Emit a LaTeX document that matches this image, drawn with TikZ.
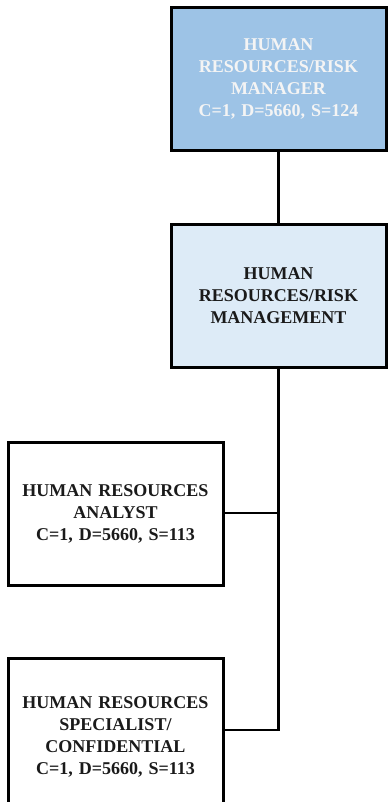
\documentclass[tikz,border=0pt]{standalone}
\usepackage{fontspec}
\setmainfont{Liberation Serif}
\definecolor{mgrfill}{HTML}{9DC3E6}
\definecolor{deptfill}{HTML}{DDEBF7}
\definecolor{inktext}{HTML}{1A1A1A}
\definecolor{lighttext}{HTML}{F4F4F4}
\tikzset{
  orgbox/.style={draw=black, line width=3pt, minimum width=215pt, minimum height=143pt,
    text width=205pt, align=center, inner sep=0pt,
    font=\bfseries\fontsize{18pt}{22pt}\selectfont, text=inktext},
  link/.style={draw=black, line width=2.6pt}
}
\begin{document}
\begin{tikzpicture}[x=1pt,y=-1pt]
  \useasboundingbox (0,0) rectangle (388,802);
  \clip (0,0) rectangle (388,802);
  \node[orgbox, fill=mgrfill, text=lighttext] (mgr) at (278.5,79)
    {HUMAN\\RESOURCES/RISK\\MANAGER\\C=1, D=5660, S=124};
  \node[orgbox, fill=deptfill, minimum height=142pt] (dept) at (278.5,296)
    {HUMAN\\RESOURCES/RISK\\MANAGEMENT};
  \node[orgbox, fill=white] (analyst) at (115.5,514)
    {HUMAN RESOURCES\\ANALYST\\C=1, D=5660, S=113};
  \node[orgbox, fill=white, minimum height=158pt] (spec) at (115.5,737)
    {HUMAN RESOURCES\\SPECIALIST/\\CONFIDENTIAL\\C=1, D=5660, S=113};
  \coordinate (specjoin) at ([yshift=7pt]spec.east);
  \draw[link] (mgr.south) -- (dept.north);
  \draw[link] (dept.south) |- ([yshift=1pt]analyst.east);
  \draw[link] (dept.south) |- (specjoin);
\end{tikzpicture}
\end{document}
